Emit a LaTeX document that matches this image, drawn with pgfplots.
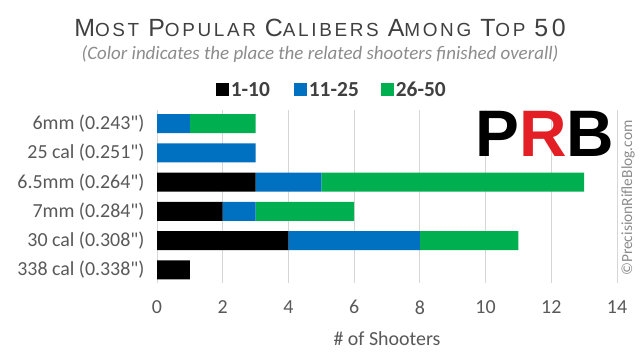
\documentclass[border=0pt]{standalone}
\usepackage{pgfplots}
\pgfplotsset{compat=1.18}
\usepackage{fontspec}
\setmainfont{Carlito}
\newfontfamily\titlefont[LetterSpace=14]{Liberation Sans}
\newfontfamily\logofont{Liberation Sans}
\definecolor{cblue}{HTML}{0070C0}
\definecolor{cgreen}{HTML}{00B050}
\definecolor{txt}{HTML}{595959}
\definecolor{ttl}{HTML}{404040}
\definecolor{prbred}{HTML}{E31E24}
\newcommand\BigS[1]{{\fontsize{25}{25}\selectfont #1}}
\newcommand\SmS[1]{{\fontsize{19}{19}\selectfont #1}}
\newcommand\q{\textquotedbl}
\newcommand\ws{\hspace{9bp}}
\begin{document}
\begin{tikzpicture}
\useasboundingbox (0,0) rectangle (640bp,355bp);
\fill[white] (0,0) rectangle (640bp,355bp);
\begin{axis}[
  at={(157bp,72bp)}, anchor=south west,
  scale only axis, width=460bp, height=173bp,
  xbar stacked, bar width=19bp,
  xmin=0, xmax=14, xtick={0,2,...,14},
  ymin=-0.47, ymax=5.45, y dir=reverse,
  ytick={0,1,2,3,4,5},
  yticklabels={6mm (0.243\q),25 cal (0.251\q),6.5mm (0.264\q),7mm (0.284\q),30 cal (0.308\q),338 cal (0.338\q)},
  axis line style={draw=none}, tick style={draw=none},
  xmajorgrids, grid style={color=black!16, line width=0.8pt},
  ticklabel style={font=\fontsize{20}{20}\selectfont, text=txt},
  /pgf/number format/assume math mode=true,
  xticklabel style={yshift=-14bp},
  yticklabel style={xshift=-9bp},
  xlabel={\# of Shooters},
  xlabel style={font=\fontsize{20}{20}\selectfont, text=txt, at={(axis description cs:0.5,0)}, anchor=center, yshift=-56bp},
  legend columns=3,
  legend style={at={(0.38,1.116)}, anchor=center, draw=none, fill=none,
    font=\fontsize{21.5}{21.5}\selectfont\bfseries, text=ttl,
    /tikz/every even column/.append style={column sep=3bp}},
  legend image code/.code={\fill (0bp,-6.5bp) rectangle (13bp,6.5bp);},
]
\addplot[fill=black, draw=none] coordinates {(0,0) (0,1) (3,2) (2,3) (4,4) (1,5)};
\addplot[fill=cblue, draw=none] coordinates {(1,0) (3,1) (2,2) (1,3) (4,4) (0,5)};
\addplot[fill=cgreen, draw=none] coordinates {(2,0) (0,1) (8,2) (3,3) (3,4) (0,5)};
\legend{1-10\rule{19bp}{0pt},11-25\rule{17bp}{0pt},26-50}
\end{axis}
\node[text=ttl] at (320bp,327bp) {\titlefont\BigS{M}\SmS{OST}\ws\BigS{P}\SmS{OPULAR}\ws\BigS{C}\SmS{ALIBERS}\ws\BigS{A}\SmS{MONG}\ws\BigS{T}\SmS{OP}\ws\BigS{50}};
\node[text=black!45] at (320bp,301bp) {\fontsize{19}{19}\selectfont\itshape (Color indicates the place the related shooters finished overall)};
\node[inner sep=0pt] at (545bp,221bp) {\logofont\bfseries\fontsize{66}{66}\selectfont P\textcolor{prbred}{R}B};
\node[rotate=90, text=black!45, inner sep=0pt] at (628bp,157bp) {\fontsize{15.5}{15.5}\selectfont \textcopyright PrecisionRifleBlog.com};
\end{tikzpicture}
\end{document}
